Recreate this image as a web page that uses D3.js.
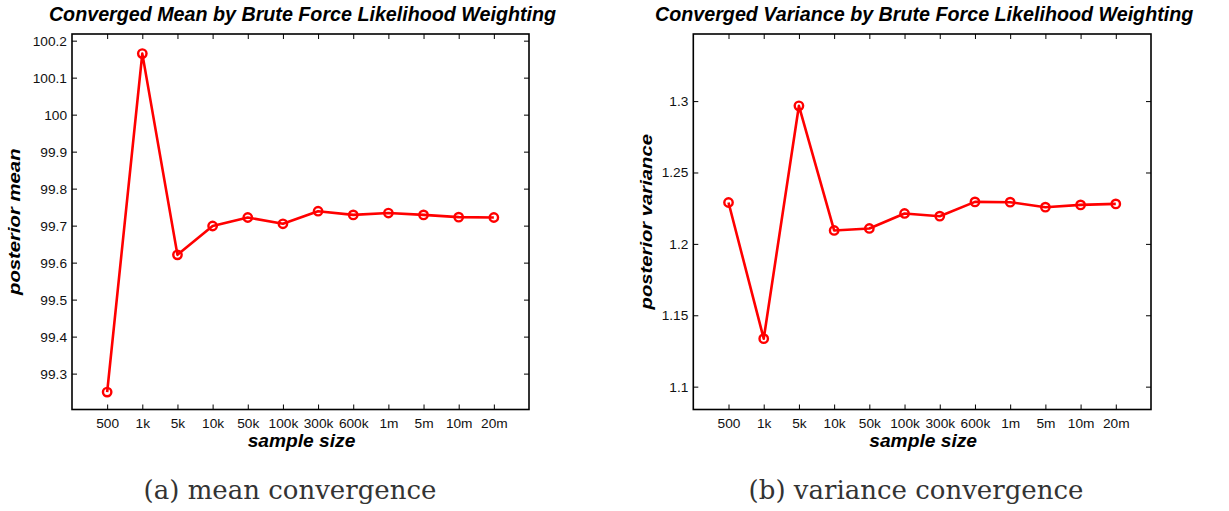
<!DOCTYPE html>
<html>
<head>
<meta charset="utf-8">
<script src="https://cdn.jsdelivr.net/npm/d3@7"></script>
<style>
  body { margin: 0; background: #fff; }
  svg { display: block; }
  .tick text { font-family: "Liberation Sans", Arial, sans-serif; font-size: 13.7px; fill: #111; }
  .title, .axis-label { font-family: "Liberation Sans", Arial, sans-serif; font-weight: bold; font-style: italic; fill: #000; }
  .caption { font-family: "DejaVu Serif", serif; fill: #333; }
</style>
</head>
<body>
<div id="container"></div>
<script>
// sample sizes on the x axis (one point per size)
var sampleSizes = ["500", "1k", "5k", "10k", "50k", "100k", "300k", "600k", "1m", "5m", "10m", "20m"];

// converged posterior mean per sample size
var meanValues = [99.25, 100.165, 99.621, 99.699, 99.722, 99.705, 99.739, 99.729, 99.734, 99.729, 99.723, 99.722];
var meanTicks = [99.3, 99.4, 99.5, 99.6, 99.7, 99.8, 99.9, 100, 100.1, 100.2];
var meanDomain = [99.203, 100.218];

// converged posterior variance per sample size
var varianceValues = [1.229, 1.1336, 1.2967, 1.2094, 1.2108, 1.2213, 1.2194, 1.2294, 1.2292, 1.2257, 1.2273, 1.228];
var varianceTicks = [1.1, 1.15, 1.2, 1.25, 1.3];
var varianceDomain = [1.084, 1.347];

var width = 1229;
var height = 511;

var svg = d3.select("#container").append("svg")
    .attr("width", width)
    .attr("height", height);

function drawPanel(opts) {
    var g = svg.append("g");
    var left = opts.left, right = opts.right, top = 34, bottom = 409.5;
    var tickLen = 5;

    var x = d3.scaleLinear().domain([0, sampleSizes.length + 1]).range([left, right]);
    var y = d3.scaleLinear().domain(opts.domain).range([bottom, top]);
    var idx = sampleSizes.map(function (d, i) { return i + 1; });
    var fmt = function (v) { return String(+v.toFixed(2)); };

    // bottom axis with labels, top axis mirrored (ticks only)
    var xAxis = d3.axisBottom(x).tickValues(idx).tickSizeInner(-tickLen).tickSizeOuter(0).tickPadding(8.5)
        .tickFormat(function (d) { return sampleSizes[d - 1]; });
    g.append("g").attr("transform", "translate(0," + bottom + ")").call(xAxis);
    g.append("g").attr("transform", "translate(0," + top + ")")
        .call(d3.axisTop(x).tickValues(idx).tickSizeInner(-tickLen).tickSizeOuter(0).tickFormat(""));

    var yAxis = d3.axisLeft(y).tickValues(opts.ticks).tickSizeInner(-tickLen).tickSizeOuter(0).tickPadding(5)
        .tickFormat(fmt);
    g.append("g").attr("transform", "translate(" + left + ",0)").call(yAxis);
    g.append("g").attr("transform", "translate(" + right + ",0)")
        .call(d3.axisRight(y).tickValues(opts.ticks).tickSizeInner(-tickLen).tickSizeOuter(0).tickFormat(""));

    g.selectAll(".domain").remove();
    g.selectAll(".tick line").attr("stroke", "#000").attr("stroke-width", 1);

    // box
    g.append("rect")
        .attr("x", left).attr("y", top)
        .attr("width", right - left).attr("height", bottom - top)
        .attr("fill", "none").attr("stroke", "#000").attr("stroke-width", 1.6);

    var pts = opts.values.map(function (v, i) { return [x(i + 1), y(v)]; });

    g.append("path")
        .attr("d", d3.line()(pts))
        .attr("fill", "none")
        .attr("stroke", "#ff0000")
        .attr("stroke-width", 2.6)
        .attr("stroke-linejoin", "round");

    g.selectAll("circle.marker").data(pts).enter().append("circle")
        .attr("class", "marker")
        .attr("cx", function (d) { return d[0]; })
        .attr("cy", function (d) { return d[1]; })
        .attr("r", 4.2)
        .attr("fill", "none")
        .attr("stroke", "#ff0000")
        .attr("stroke-width", 2.4);

    var cx = (left + right) / 2;
    g.append("text").attr("class", "title")
        .attr("x", cx + 2).attr("y", 20.5)
        .attr("text-anchor", "middle")
        .style("font-size", "19.7px")
        .text(opts.title);

    g.append("text").attr("class", "axis-label")
        .attr("x", cx + 1).attr("y", 446.5)
        .attr("text-anchor", "middle")
        .style("font-size", "19.2px")
        .text("sample size");

    // y label is drawn a bit narrow and tall, like the exported figure
    g.append("text").attr("class", "axis-label")
        .attr("transform", "translate(" + opts.ylabelX + "," + (top + bottom) / 2 + ") rotate(-90) scale(" + opts.ylabelStretch + ",1)")
        .attr("text-anchor", "middle")
        .style("font-size", opts.ylabelSize + "px")
        .text(opts.ylabel);

    g.append("text").attr("class", "caption")
        .attr("x", opts.captionX).attr("y", 499)
        .attr("text-anchor", "middle")
        .style("font-size", "26px")
        .text(opts.caption);
}

drawPanel({
    left: 72, right: 529,
    domain: meanDomain, ticks: meanTicks, values: meanValues,
    title: "Converged Mean by Brute Force Likelihood Weighting",
    ylabel: "posterior mean", ylabelX: 20, ylabelSize: 16.5, ylabelStretch: 1.23,
    caption: "(a) mean convergence", captionX: 290
});

drawPanel({
    left: 693.3, right: 1151,
    domain: varianceDomain, ticks: varianceTicks, values: varianceValues,
    title: "Converged Variance by Brute Force Likelihood Weighting",
    ylabel: "posterior variance", ylabelX: 651.5, ylabelSize: 17, ylabelStretch: 1.19,
    caption: "(b) variance convergence", captionX: 916
});
</script>
</body>
</html>
